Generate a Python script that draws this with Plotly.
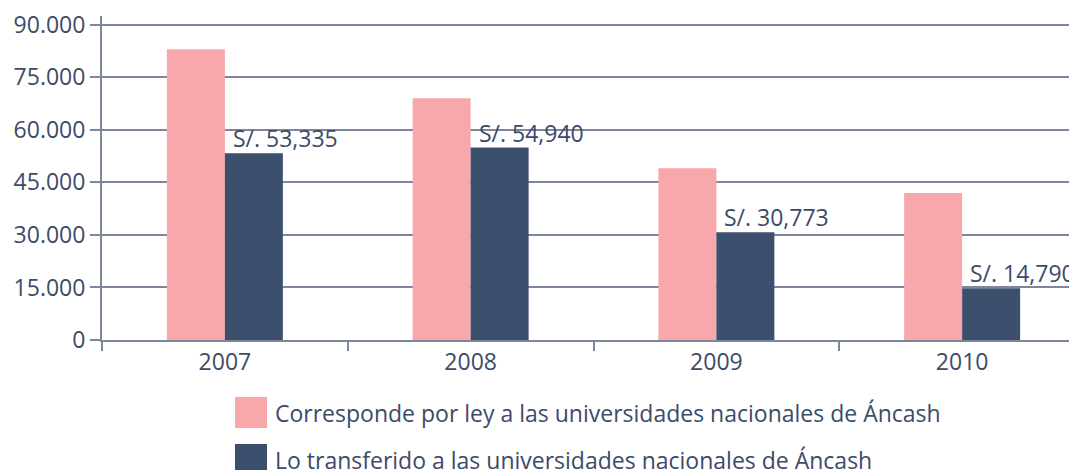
import plotly.graph_objects as go

years = ["2007", "2008", "2009", "2010"]
por_ley = [83000, 69000, 49000, 42000]
transferido = [53335, 54940, 30773, 14790]
series_names = [
    "Corresponde por ley a las universidades nacionales de Áncash",
    "Lo transferido a las universidades nacionales de Áncash",
]
y_ticks = [0, 15000, 30000, 45000, 60000, 75000, 90000]

PINK = "#F8A7AA"
NAVY = "#3C506E"
GRID = "#7C879F"
TEXT = "#3C4B68"
FONT = "Open Sans"

fig = go.Figure()
fig.add_bar(x=years, y=por_ley, name=series_names[0], marker_color=PINK, marker_line_width=0)
fig.add_bar(x=years, y=transferido, name=series_names[1], marker_color=NAVY, marker_line_width=0)

for i, v in enumerate(transferido):
    fig.add_annotation(x=i, y=v, xref="x", yref="y", text="S/. {:,}".format(v),
                       showarrow=False, xanchor="left", yanchor="bottom", xshift=6, yshift=-3,
                       font=dict(family=FONT, size=23, color=TEXT))

# manual legend (page has an 8px body offset)
OFF = 8
W, H = 1077, 470
ml, mr, mt, mb = 94, 0, 8, 138
ph = H - mt - mb
pw = W - ml - mr
def py(p):
    return (H - mb - (p - OFF)) / ph
def px(p):
    return (p - OFF - ml) / pw
for i, (col, name) in enumerate(zip([PINK, NAVY], series_names)):
    top = 397 + i * 47
    fig.add_shape(type="rect", xref="paper", yref="paper",
                  x0=px(235), x1=px(267), y0=py(top + 31), y1=py(top),
                  fillcolor=col, line_width=0)
    fig.add_annotation(xref="paper", yref="paper", x=px(273), y=py(top + 16),
                       text=name, showarrow=False, xanchor="left", yanchor="middle",
                       font=dict(family=FONT, size=23, color=TEXT))

fig.update_layout(
    width=W, height=H,
    margin=dict(l=ml, r=mr, t=mt, b=mb, autoexpand=False),
    plot_bgcolor="white", paper_bgcolor="white",
    barmode="group", bargap=0.528, bargroupgap=0,
    showlegend=False,
    separators=",.",
    font=dict(family=FONT, color=TEXT, size=22),
)
fig.update_xaxes(
    type="category", range=[-0.5, 3.5],
    showline=True, linecolor=GRID, linewidth=2,
    ticks="outside", tickson="boundaries", ticklen=9, tickwidth=2, tickcolor=GRID,
    tickfont=dict(family=FONT, size=23, color=TEXT),
    showgrid=False, automargin=False,
)
fig.update_yaxes(
    range=[0, 92500], tickvals=y_ticks, tickformat=",d",
    showline=True, linecolor=GRID, linewidth=2,
    ticks="outside", ticklen=10, tickwidth=2, tickcolor=GRID,
    showgrid=True, gridcolor=GRID, gridwidth=2,
    zeroline=False, automargin=False, ticklabeloverflow="allow",
    tickfont=dict(family=FONT, size=23, color=TEXT),
)

fig.write_html("out.html")
